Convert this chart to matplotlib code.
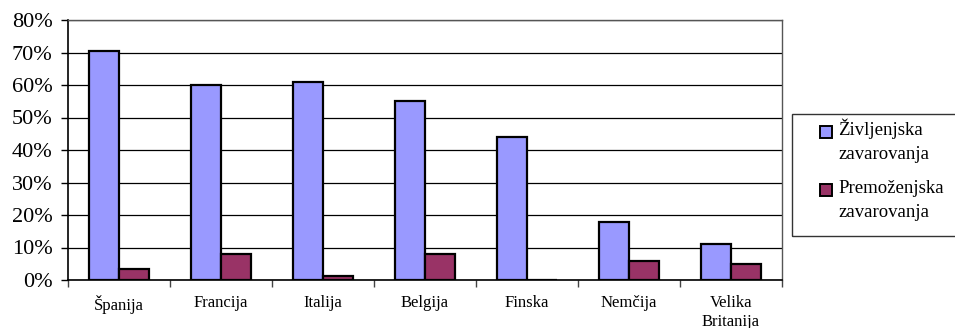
import matplotlib
matplotlib.use("Agg")
import matplotlib.pyplot as plt
import numpy as np
from matplotlib.patches import Rectangle
from matplotlib.ticker import FixedLocator, FuncFormatter

countries = ["Španija", "Francija", "Italija", "Belgija", "Finska", "Nemčija", "Velika\nBritanija"]
zivljenjska = [70.5, 60, 61, 55, 44, 18, 11]
premozenjska = [3.5, 8, 1.2, 8, 0, 6, 5]
series_names = ["Življenjska\nzavarovanja", "Premoženjska\nzavarovanja"]
series_colors = ["#9999FF", "#993366"]

plt.rcParams["font.family"] = ["Liberation Serif", "DejaVu Serif"]

W, H = 955, 328
fig = plt.figure(figsize=(W / 100, H / 100), dpi=100)
ax = fig.add_axes([68 / W, 1 - 280 / H, (782 - 68) / W, 260 / H])

x = np.arange(len(countries))
w = 0.29
ax.bar(x - w / 2, zivljenjska, w, color=series_colors[0], edgecolor="black", linewidth=1.6, zorder=3)
ax.bar(x + w / 2, premozenjska, w, color=series_colors[1], edgecolor="black", linewidth=1.6, zorder=3)

ax.set_xlim(-0.5, len(countries) - 0.5)
ax.set_ylim(0, 80)
ax.set_yticks(np.arange(0, 81, 10))
ax.yaxis.set_major_formatter(FuncFormatter(lambda v, p: f"{int(v)}%"))
ax.grid(axis="y", color="black", linewidth=0.9, zorder=0)

ax.set_xticks(x)
ax.set_xticklabels(countries, fontsize=12, linespacing=1.2)
ax.tick_params(axis="x", length=0, pad=11)
ax.xaxis.set_minor_locator(FixedLocator(np.arange(-0.5, len(countries), 1)))
ax.tick_params(axis="x", which="minor", length=5, width=1, color="#444444", direction="out")
ax.tick_params(axis="y", labelsize=16, length=5, width=1, direction="out", pad=6)

for side in ["left", "bottom"]:
    ax.spines[side].set_color("black")
    ax.spines[side].set_linewidth(1.2)
for side in ["top", "right"]:
    ax.spines[side].set_color("#555555")
    ax.spines[side].set_linewidth(1.0)

# Legend box, drawn in figure pixels
def fx(px):
    return px / W

def fy(py):
    return 1 - py / H

fig.patches.append(Rectangle((fx(792), fy(236)), fx(W) - fx(792) + 0.01, fy(114) - fy(236),
                             transform=fig.transFigure, fill=False, edgecolor="#333333",
                             linewidth=1.0))
entry_tops = [126, 184]
for name, color, top in zip(series_names, series_colors, entry_tops):
    fig.patches.append(Rectangle((fx(820), fy(top + 12)), fx(12), 12 / H,
                                 transform=fig.transFigure, facecolor=color,
                                 edgecolor="black", linewidth=1.4))
    for i, line in enumerate(name.split("\n")):
        fig.text(fx(838), fy(top + 9 + 24 * i), line, fontsize=13.5,
                 ha="left", va="baseline")

fig.savefig("out.png", dpi=100)
